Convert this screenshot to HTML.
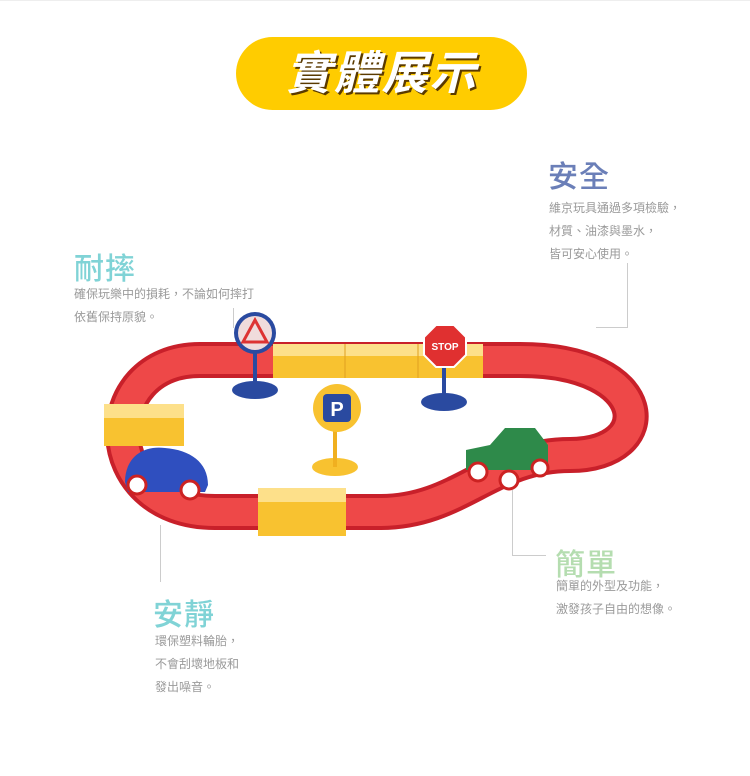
<!DOCTYPE html>
<html><head><meta charset="utf-8"><style>
body{margin:0;width:750px;height:776px;background:#fff;position:relative;overflow:hidden;font-family:"Liberation Sans","Noto Sans CJK TC",sans-serif}
.a{position:absolute}
.h{font-size:30px;font-weight:500;letter-spacing:1px}
.t{font-size:12px;color:#9a9a9a;line-height:23px;white-space:nowrap}
</style></head><body>
<div class="a" style="left:0;top:0;width:750px;height:1px;background:#eee"></div>
<div class="a" style="left:236px;top:37px;width:291px;height:73px;border-radius:37px;background:#ffcc00;text-align:center;line-height:73px;color:#fff;font-size:46px;font-weight:bold;font-style:italic;text-shadow:2px 2px 0 #5a3a00;letter-spacing:2px">實體展示</div>

<div class="a h" style="left:548px;top:152px;color:#6b7fb8">安全</div>
<div class="a t" style="left:549px;top:197px">維京玩具通過多項檢驗，<br>材質、油漆與墨水，<br>皆可安心使用。</div>
<div class="a" style="left:627px;top:263px;width:1px;height:65px;background:#ccc"></div>
<div class="a" style="left:596px;top:327px;width:32px;height:1px;background:#ccc"></div>

<div class="a h" style="left:74px;top:244px;color:#80d3d6">耐摔</div>
<div class="a t" style="left:74px;top:283px">確保玩樂中的損耗，不論如何摔打<br>依舊保持原貌。</div>
<div class="a" style="left:233px;top:308px;width:1px;height:20px;background:#ccc"></div>

<div class="a h" style="left:153px;top:590px;color:#80d3d6">安靜</div>
<div class="a t" style="left:155px;top:630px">環保塑料輪胎，<br>不會刮壞地板和<br>發出噪音。</div>
<div class="a" style="left:160px;top:525px;width:1px;height:57px;background:#ccc"></div>

<div class="a h" style="left:555px;top:540px;color:#b5ddb0">簡單</div>
<div class="a t" style="left:556px;top:575px">簡單的外型及功能，<br>激發孩子自由的想像。</div>
<div class="a" style="left:512px;top:490px;width:1px;height:66px;background:#ccc"></div>
<div class="a" style="left:512px;top:555px;width:34px;height:1px;background:#ccc"></div>

<svg class="a" style="left:0;top:0" width="750" height="776">
<path d="M200,360 L520,360 C655,360 660,455 570,455 C490,455 460,512 380,512 L215,512 C95,512 95,360 200,360 Z" fill="none" stroke="#c8202a" stroke-width="36"/>
<path d="M200,360 L520,360 C655,360 660,455 570,455 C490,455 460,512 380,512 L215,512 C95,512 95,360 200,360 Z" fill="none" stroke="#ee4848" stroke-width="28"/>
<rect x="273" y="344" width="210" height="34" fill="#f8c230"/>
<rect x="273" y="344" width="210" height="12" fill="#fde08a"/>
<line x1="345" y1="344" x2="345" y2="378" stroke="#e0a020"/><line x1="418" y1="344" x2="418" y2="378" stroke="#e0a020"/>
<rect x="104" y="404" width="80" height="42" fill="#f8c230"/>
<rect x="104" y="404" width="80" height="14" fill="#fde08a"/>
<rect x="258" y="488" width="88" height="48" fill="#f8c230"/>
<rect x="258" y="488" width="88" height="14" fill="#fde08a"/>
<ellipse cx="255" cy="390" rx="23" ry="9" fill="#2a4aa0"/><rect x="253" y="340" width="4" height="50" fill="#2a4aa0"/>
<circle cx="255" cy="333" r="21" fill="#2a4aa0"/><circle cx="255" cy="333" r="17" fill="#f0dcdc"/><path d="M255,320 L267,342 L243,342 Z" fill="none" stroke="#d33" stroke-width="3"/>
<ellipse cx="444" cy="402" rx="23" ry="9" fill="#2a4aa0"/><rect x="442" y="355" width="4" height="47" fill="#2a4aa0"/>
<polygon points="436,325 454,325 466,337 466,355 454,367 436,367 424,355 424,337" fill="#e03030" stroke="#fff" stroke-width="2"/>
<text x="445" y="350" font-size="10" font-weight="bold" fill="#fff" text-anchor="middle" font-family="Liberation Sans">STOP</text>
<ellipse cx="335" cy="467" rx="23" ry="9" fill="#f8c230"/><rect x="333" y="425" width="4" height="42" fill="#f0b020"/>
<circle cx="337" cy="408" r="24" fill="#f8c230"/><rect x="323" y="394" width="28" height="28" rx="4" fill="#2a4aa0"/>
<text x="337" y="416" font-size="20" font-weight="bold" fill="#fff" text-anchor="middle" font-family="Liberation Sans">P</text>
<path d="M125,482 C125,460 140,445 165,448 C190,450 208,462 208,485 L205,492 L128,492 Z" fill="#2f4fbf"/>
<circle cx="137" cy="485" r="9" fill="#fff" stroke="#c22" stroke-width="3"/><circle cx="190" cy="490" r="9" fill="#fff" stroke="#c22" stroke-width="3"/>
<path d="M466,450 L490,445 L505,428 L535,428 L548,445 L548,470 L466,470 Z" fill="#2e8a4a"/>
<circle cx="478" cy="472" r="9" fill="#fff" stroke="#c22" stroke-width="3"/><circle cx="509" cy="480" r="9" fill="#fff" stroke="#c22" stroke-width="3"/><circle cx="540" cy="468" r="8" fill="#fff" stroke="#c22" stroke-width="3"/>
</svg>
</body></html>
